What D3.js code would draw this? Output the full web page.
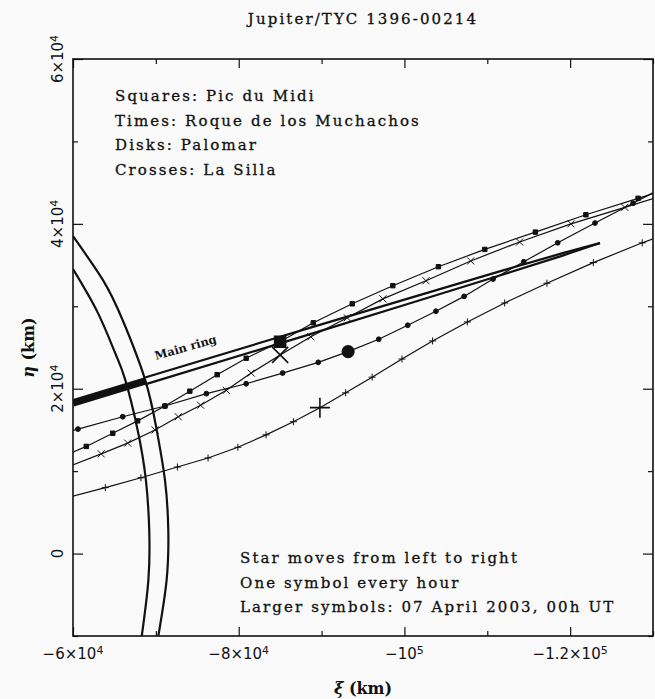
<!DOCTYPE html>
<html lang="en">
  <head>
    <meta charset="UTF-8" />
    <script src="https://d3js.org/d3.v7.min.js"></script>
    <title>Jupiter/TYC 1396-00214</title>
    <style>
      body { margin: 0; background: #fafafa; }
      svg { display: block; }
    </style>
  </head>
  <body>
    <svg width="655" height="699"></svg>
    <script>
      // axes: xi and eta in km
      var xDomain = [-60000, -130000];
      var yDomain = [-10000, 60000];
      var xMajorTicks = [-60000, -80000, -100000, -120000];
      var xMinorTicks = [-70000, -90000, -110000, -130000];
      var yMajorTicks = [0, 20000, 40000, 60000];
      var yMinorTicks = [-10000, 10000, 30000, 50000];

      // star tracks, one point per hour [xi, eta]; index 8 = 07 April 2003, 00h UT
      var zeroHourIndex = 8;
      var picDuMidi = [
        [-58400, 11600], [-61600, 13000], [-64800, 14600], [-67800, 16100],
        [-71100, 17900], [-74100, 19700], [-77400, 21700], [-80900, 23700],
        [-85000, 25700], [-89000, 28000], [-93700, 30300], [-98600, 32500],
        [-104100, 34800], [-109700, 36900], [-115800, 39000], [-121900, 41100],
        [-128200, 43100], [-134500, 45100]
      ];
      var roqueMuchachos = [
        [-59600, 10600], [-63400, 12100], [-66600, 13400], [-69900, 15000],
        [-72700, 16600], [-75400, 18000], [-78500, 19800], [-81500, 21900],
        [-85000, 24100], [-88700, 26300], [-93100, 28600], [-97400, 30900],
        [-102600, 33100], [-108000, 35500], [-113900, 37800], [-120100, 40000],
        [-126600, 42000], [-133300, 44100]
      ];
      var palomar = [
        [-55200, 13700], [-60600, 15100], [-66000, 16600], [-71100, 17900],
        [-76100, 19400], [-80900, 20600], [-85300, 21900], [-89600, 23200],
        [-93200, 24500], [-96900, 26000], [-100400, 27700], [-103800, 29400],
        [-107200, 31200], [-110700, 33300], [-114400, 35400], [-118500, 37700],
        [-123000, 40100], [-127600, 42500], [-132300, 45000]
      ];
      var laSilla = [
        [-59000, 6700], [-63900, 8000], [-68200, 9200], [-72600, 10500],
        [-76300, 11600], [-79900, 12900], [-83300, 14400], [-86600, 16000],
        [-89800, 17700], [-92900, 19500], [-96100, 21400], [-99700, 23600],
        [-103400, 25800], [-107600, 28100], [-112100, 30400], [-117200, 32800],
        [-122800, 35300], [-128700, 37700], [-135100, 40100]
      ];

      // Jupiter limb arcs
      var limbOuter = [
        [-60000, 38500], [-63600, 33200], [-66000, 28300], [-68700, 21100],
        [-70100, 15000], [-71100, 8900], [-71500, 2900], [-71300, -3200],
        [-70300, -10000]
      ];
      var limbInner = [
        [-60000, 34500], [-63000, 29200], [-65100, 24300], [-66300, 21100],
        [-67800, 15000], [-68800, 8900], [-69200, 2900], [-69100, -3200],
        [-68300, -10000]
      ];

      // main ring
      var ringHidden = [[-60000, 18290], [-68700, 20940]];
      var ringUpper = [
        [-68700, 21360], [-84000, 26000], [-100000, 30810], [-112000, 34390],
        [-119000, 36420], [-123600, 37670]
      ];
      var ringLower = [
        [-68700, 20520], [-84000, 25200], [-100000, 30150], [-112000, 33890],
        [-119000, 36120], [-123600, 37670]
      ];

      var legendLines = [
        "Squares: Pic du Midi",
        "Times: Roque de los Muchachos",
        "Disks: Palomar",
        "Crosses: La Silla"
      ];
      var noteLines = [
        "Star moves from left to right",
        "One symbol every hour",
        "Larger symbols: 07 April 2003, 00h UT"
      ];

      var svg = d3.select("svg");
      var frameL = 73, frameR = 653, frameT = 59, frameB = 636;
      var x = d3.scaleLinear().domain(xDomain).range([frameL, frameR]);
      var y = d3.scaleLinear().domain(yDomain).range([frameB, frameT]);

      svg.append("defs").append("clipPath").attr("id", "frame")
        .append("rect")
        .attr("x", frameL).attr("y", frameT)
        .attr("width", frameR - frameL).attr("height", frameB - frameT);

      // ticks on all four sides, pointing inward
      function ticks(axisFn, scale, values, size, tr) {
        svg.append("g")
          .attr("transform", tr)
          .call(axisFn(scale).tickValues(values).tickSize(size).tickFormat(""))
          .call(function (g) { g.select(".domain").remove(); })
          .selectAll("line").attr("stroke", "#111").attr("stroke-width", 1.2);
      }
      ticks(d3.axisBottom, x, xMajorTicks, -9, "translate(0," + frameB + ")");
      ticks(d3.axisBottom, x, xMinorTicks, -5, "translate(0," + frameB + ")");
      ticks(d3.axisTop, x, xMajorTicks, -9, "translate(0," + frameT + ")");
      ticks(d3.axisTop, x, xMinorTicks, -5, "translate(0," + frameT + ")");
      ticks(d3.axisLeft, y, yMajorTicks, -10, "translate(" + frameL + ",0)");
      ticks(d3.axisLeft, y, yMinorTicks, -5, "translate(" + frameL + ",0)");
      ticks(d3.axisRight, y, yMajorTicks, -10, "translate(" + frameR + ",0)");
      ticks(d3.axisRight, y, yMinorTicks, -5, "translate(" + frameR + ",0)");

      svg.append("rect")
        .attr("x", frameL).attr("y", frameT)
        .attr("width", frameR - frameL).attr("height", frameB - frameT)
        .attr("fill", "none").attr("stroke", "#111").attr("stroke-width", 1.6);

      // tick labels like "−1.2×10^5"
      function sciLabel(sel, v) {
        if (v === 0) { sel.text("0"); return; }
        var e = Math.floor(Math.log10(Math.abs(v)) + 1e-9);
        var m = Math.round(v / Math.pow(10, e) * 10) / 10;
        var s = (m < 0 ? "\u2212" : "") + (Math.abs(m) === 1 ? "" : Math.abs(m) + "\u00d7") + "10";
        sel.append("tspan").text(s);
        sel.append("tspan").attr("dy", "-0.5em").attr("font-size", "11px").text(e);
      }

      var tickFont = "'DejaVu Sans', sans-serif";
      svg.append("g").selectAll("text")
        .data(xMajorTicks).join("text")
        .attr("x", function (d) { return x(d); })
        .attr("y", 659)
        .attr("text-anchor", "middle")
        .attr("font-family", tickFont).attr("font-size", "15px").attr("fill", "#111")
        .each(function (d) { sciLabel(d3.select(this), d); });

      svg.append("g").selectAll("text")
        .data(yMajorTicks).join("text")
        .attr("transform", function (d) { return "translate(63," + y(d) + ") rotate(-90)"; })
        .attr("text-anchor", "middle")
        .attr("font-family", tickFont).attr("font-size", "15px").attr("fill", "#111")
        .each(function (d) { sciLabel(d3.select(this), d); });

      // axis titles
      var serif = "'DejaVu Serif', serif";
      var xt = svg.append("text")
        .attr("x", (frameL + frameR) / 2).attr("y", 694)
        .attr("text-anchor", "middle")
        .attr("font-family", serif).attr("font-size", "16px").attr("font-weight", "bold").attr("fill", "#111");
      xt.append("tspan").attr("font-style", "italic").text("\u03be");
      xt.append("tspan").text(" (km)");
      var yt = svg.append("text")
        .attr("transform", "translate(34," + (frameT + frameB) / 2 + ") rotate(-90)")
        .attr("text-anchor", "middle")
        .attr("font-family", serif).attr("font-size", "16px").attr("font-weight", "bold").attr("fill", "#111");
      yt.append("tspan").attr("font-style", "italic").text("\u03b7");
      yt.append("tspan").text(" (km)");

      function serifText(sel) {
        sel.attr("font-family", serif).attr("font-size", "15px")
          .attr("letter-spacing", "2.1px")
          .attr("fill", "#111").attr("stroke", "#111").attr("stroke-width", 0.3);
      }

      svg.append("text")
        .attr("x", (frameL + frameR) / 2).attr("y", 24)
        .attr("text-anchor", "middle")
        .call(serifText)
        .text("Jupiter/TYC 1396-00214");

      // plot content
      var plot = svg.append("g").attr("clip-path", "url(#frame)");
      var line = d3.line()
        .x(function (d) { return x(d[0]); })
        .y(function (d) { return y(d[1]); });
      var smooth = d3.line()
        .x(function (d) { return x(d[0]); })
        .y(function (d) { return y(d[1]); })
        .curve(d3.curveNatural);

      [limbOuter, limbInner].forEach(function (arc) {
        plot.append("path").attr("d", smooth(arc))
          .attr("fill", "none").attr("stroke", "#111").attr("stroke-width", 2.2);
      });

      plot.append("path").attr("d", line(ringHidden))
        .attr("fill", "none").attr("stroke", "#111").attr("stroke-width", 7.5);
      [ringUpper, ringLower].forEach(function (edge) {
        plot.append("path").attr("d", smooth(edge))
          .attr("fill", "none").attr("stroke", "#111").attr("stroke-width", 2.2);
      });

      var stations = [
        { data: picDuMidi, kind: "square" },
        { data: roqueMuchachos, kind: "times" },
        { data: palomar, kind: "disk" },
        { data: laSilla, kind: "plus" }
      ];

      function markPath(kind, s) {
        if (kind === "plus") return "M" + -s + ",0H" + s + "M0," + -s + "V" + s;
        if (kind === "times") return "M" + -s + "," + -s + "L" + s + "," + s + "M" + -s + "," + s + "L" + s + "," + -s;
        if (kind === "square") return "M" + -s + "," + -s + "H" + s + "V" + s + "H" + -s + "Z";
        return d3.arc()({ innerRadius: 0, outerRadius: s, startAngle: 0, endAngle: 2 * Math.PI });
      }
      var smallSize = { square: 2.2, times: 3.5, disk: 2.4, plus: 3.5 };
      var bigSize = { square: 5.5, times: 8, disk: 5.8, plus: 10 };

      stations.forEach(function (st) {
        plot.append("path").attr("d", line(st.data))
          .attr("fill", "none").attr("stroke", "#111").attr("stroke-width", 1.2);
        plot.append("g").selectAll("path")
          .data(st.data).join("path")
          .attr("transform", function (d) { return "translate(" + x(d[0]) + "," + y(d[1]) + ")"; })
          .attr("d", function (d, i) {
            return markPath(st.kind, i === zeroHourIndex ? bigSize[st.kind] : smallSize[st.kind]);
          })
          .attr("fill", st.kind === "square" || st.kind === "disk" ? "#111" : "none")
          .attr("stroke", "#111")
          .attr("stroke-width", function (d, i) { return i === zeroHourIndex ? 1.6 : 1; });
      });

      // ring label along the ring
      svg.append("text")
        .attr("transform", "translate(156,360) rotate(-16)")
        .attr("font-family", serif).attr("font-size", "11.5px").attr("font-weight", "bold").attr("fill", "#111")
        .text("Main ring");

      svg.append("g").selectAll("text")
        .data(legendLines).join("text")
        .attr("x", 115)
        .attr("y", function (d, i) { return 101 + i * 24.7; })
        .call(serifText)
        .text(function (d) { return d; });

      svg.append("g").selectAll("text")
        .data(noteLines).join("text")
        .attr("x", 240)
        .attr("y", function (d, i) { return 563 + i * 24.5; })
        .call(serifText)
        .text(function (d) { return d; });
    </script>
  </body>
</html>
